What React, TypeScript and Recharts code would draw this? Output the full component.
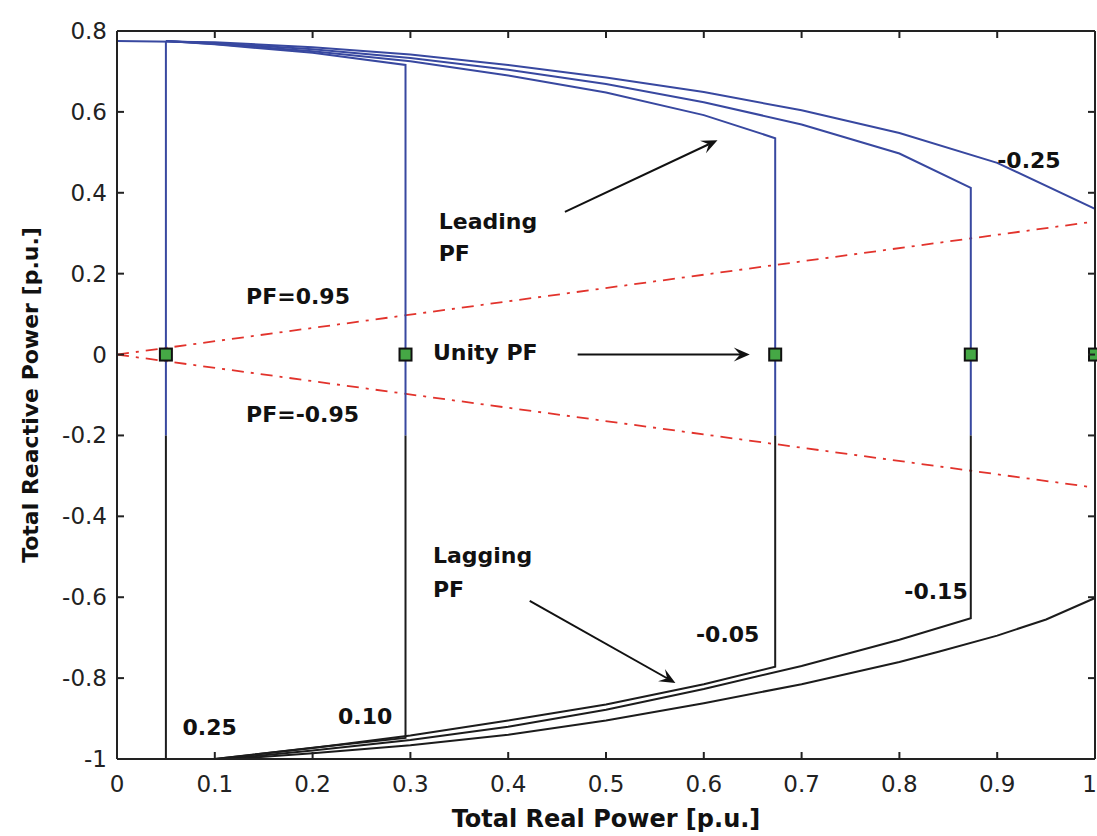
import React from 'react';
import { ComposedChart, Line, Scatter, XAxis, YAxis, ReferenceLine, ReferenceDot, Label } from 'recharts';

type P = { x: number; y: number };
const pts = (a: number[][]): P[] => a.map(([x, y]) => ({ x, y }));

// Tick values
const xTicks = [0, 0.1, 0.2, 0.3, 0.4, 0.5, 0.6, 0.7, 0.8, 0.9, 1];
const yTicks = [-1, -0.8, -0.6, -0.4, -0.2, 0, 0.2, 0.4, 0.6, 0.8];

// Leading PF (upper, blue) branches of each curve
const lead025 = pts([[0.05, 0.775], [0.05, -0.2]]);
const lead010 = pts([[0.05, 0.775], [0.1, 0.767], [0.2, 0.746], [0.295, 0.716], [0.295, -0.2]]);
const leadM005 = pts([[0.05, 0.775], [0.1, 0.768], [0.2, 0.75], [0.3, 0.725], [0.4, 0.69], [0.5, 0.648], [0.6, 0.592], [0.673, 0.535], [0.673, -0.2]]);
const leadM015 = pts([[0.05, 0.775], [0.1, 0.77], [0.2, 0.755], [0.3, 0.733], [0.4, 0.704], [0.5, 0.669], [0.6, 0.624], [0.7, 0.569], [0.8, 0.497], [0.873, 0.412], [0.873, -0.2]]);
const leadM025 = pts([[0, 0.775], [0.1, 0.772], [0.2, 0.76], [0.3, 0.742], [0.4, 0.716], [0.5, 0.685], [0.6, 0.649], [0.7, 0.604], [0.8, 0.548], [0.9, 0.474], [1.0, 0.36], [1.0, -0.2]]);

// Lagging PF (lower, black) branches of each curve
const lag025 = pts([[0.05, -0.2], [0.05, -1.0]]);
const lag010 = pts([[0.295, -0.2], [0.295, -0.948], [0.2, -0.972], [0.1, -1.0]]);
const lagM005 = pts([[0.673, -0.2], [0.673, -0.772], [0.6, -0.815], [0.5, -0.865], [0.4, -0.905], [0.3, -0.942], [0.2, -0.973], [0.1, -1.0]]);
const lagM015 = pts([[0.873, -0.2], [0.873, -0.652], [0.8, -0.705], [0.7, -0.77], [0.6, -0.827], [0.5, -0.878], [0.4, -0.92], [0.3, -0.953], [0.2, -0.979], [0.11, -1.0]]);
const lagM025 = pts([[1.0, -0.2], [1.0, -0.602], [0.95, -0.655], [0.9, -0.695], [0.84, -0.735], [0.8, -0.76], [0.7, -0.815], [0.6, -0.862], [0.5, -0.905], [0.4, -0.94], [0.3, -0.966], [0.2, -0.986], [0.12, -1.0]]);

// Power factor lines
const pfLead = pts([[0, 0], [1, 0.329]]);
const pfLag = pts([[0, 0], [1, -0.329]]);

// Unity PF points
const unity = pts([[0.05, 0], [0.295, 0], [0.673, 0], [0.873, 0], [1.0, 0]]);

// Annotations
const notes = [
  { x: 0.329, y: 0.328, text: 'Leading' },
  { x: 0.329, y: 0.249, text: 'PF' },
  { x: 0.132, y: 0.143, text: 'PF=0.95' },
  { x: 0.132, y: -0.147, text: 'PF=-0.95' },
  { x: 0.323, y: 0.004, text: 'Unity PF' },
  { x: 0.9, y: 0.479, text: '-0.25' },
  { x: 0.323, y: -0.498, text: 'Lagging' },
  { x: 0.323, y: -0.58, text: 'PF' },
  { x: 0.592, y: -0.691, text: '-0.05' },
  { x: 0.805, y: -0.585, text: '-0.15' },
  { x: 0.067, y: -0.923, text: '0.25' },
  { x: 0.226, y: -0.896, text: '0.10' },
];
const arrows = [
  { x1: 0.458, y1: 0.353, x2: 0.614, y2: 0.53 },
  { x1: 0.471, y1: 0.0, x2: 0.647, y2: 0.0 },
  { x1: 0.422, y1: -0.609, x2: 0.571, y2: -0.812 },
];

const BLUE = '#3848a0';
const BLACK = '#1c1c1c';
const RED = '#e2332c';
const AXIS = '#222';
const FONT = '"DejaVu Sans", sans-serif';

const fmt = (v: number) => String(v);

const BottomTick = (p: any) => {
  const last = p.payload.value === 1;
  return (
    <g>
      <line x1={p.x} y1={p.y} x2={p.x} y2={p.y - 7} stroke={AXIS} strokeWidth={2} />
      <text
        x={last ? p.x + 2 : p.x}
        y={p.y + 25}
        textAnchor={last ? 'end' : 'middle'}
        dominantBaseline="central"
        fontSize={23}
        fill={AXIS}
        fontFamily={FONT}
      >
        {fmt(p.payload.value)}
      </text>
    </g>
  );
};
const TopTick = (p: any) => <line x1={p.x} y1={p.y} x2={p.x} y2={p.y + 7} stroke={AXIS} strokeWidth={2} />;
const LeftTick = (p: any) => (
  <g>
    <line x1={p.x} y1={p.y} x2={p.x + 7} y2={p.y} stroke={AXIS} strokeWidth={2} />
    <text x={p.x - 10} y={p.y} textAnchor="end" dominantBaseline="central" fontSize={23} fill={AXIS} fontFamily={FONT}>
      {fmt(p.payload.value)}
    </text>
  </g>
);
const RightTick = (p: any) => <line x1={p.x} y1={p.y} x2={p.x - 7} y2={p.y} stroke={AXIS} strokeWidth={2} />;

const Square = (p: any) => (
  <rect x={p.cx - 6} y={p.cy - 6} width={12} height={12} fill="#45a845" stroke="#111" strokeWidth={2} />
);

const Arrow = (p: any) => {
  const { x1, y1, x2, y2 } = p;
  const ang = Math.atan2(y2 - y1, x2 - x1);
  const L = 16, W = 7;
  const bx = x2 - L * Math.cos(ang), by = y2 - L * Math.sin(ang);
  const ix = x2 - L * 0.6 * Math.cos(ang), iy = y2 - L * 0.6 * Math.sin(ang);
  const nx = -Math.sin(ang), ny = Math.cos(ang);
  return (
    <g>
      <line x1={x1} y1={y1} x2={ix} y2={iy} stroke="#111" strokeWidth={2} />
      <polygon
        points={`${x2},${y2} ${bx + nx * W},${by + ny * W} ${ix},${iy} ${bx - nx * W},${by - ny * W}`}
        fill="#111"
      />
    </g>
  );
};

const NoteText = (text: string) => (p: any) => (
  <text x={p.cx} y={p.cy} textAnchor="start" dominantBaseline="central" fontSize={22} fontWeight="bold" fill="#111" fontFamily={FONT}>
    {text}
  </text>
);

const lineProps = { type: 'linear' as const, dataKey: 'y', dot: false, activeDot: false, isAnimationActive: false, strokeWidth: 2 };

export default function App() {
  return (
    <div style={{ position: 'absolute', left: 0, top: 0, background: '#fff' }}>
      <ComposedChart width={1097} height={836} margin={{ top: 30, right: 1, bottom: 0, left: 0 }}>
        <XAxis
          xAxisId="b"
          type="number"
          dataKey="x"
          domain={[0, 1]}
          ticks={xTicks}
          interval={0}
          height={77}
          tickSize={0}
          tickMargin={0}
          tickLine={false}
          axisLine={{ stroke: AXIS, strokeWidth: 2 }}
          tick={<BottomTick />}
        >
          <Label
            content={(lp: any) => (
              <text
                x={lp.viewBox.x + lp.viewBox.width / 2}
                y={lp.viewBox.y + 60}
                textAnchor="middle"
                dominantBaseline="central"
                fontSize={24}
                fontWeight="bold"
                fill="#111"
                fontFamily={FONT}
              >
                Total Real Power [p.u.]
              </text>
            )}
          />
        </XAxis>
        <XAxis
          xAxisId="t"
          orientation="top"
          type="number"
          dataKey="x"
          domain={[0, 1]}
          ticks={xTicks}
          interval={0}
          height={1}
          tickSize={0}
          tickMargin={0}
          tickLine={false}
          axisLine={{ stroke: AXIS, strokeWidth: 2 }}
          tick={<TopTick />}
        />
        <YAxis
          yAxisId="l"
          type="number"
          dataKey="y"
          domain={[-1, 0.8]}
          ticks={yTicks}
          interval={0}
          width={117}
          tickSize={0}
          tickMargin={0}
          tickLine={false}
          axisLine={{ stroke: AXIS, strokeWidth: 2 }}
          tick={<LeftTick />}
        >
          <Label
            content={(lp: any) => {
              const cx = 30;
              const cy = lp.viewBox.y + lp.viewBox.height / 2;
              return (
                <text
                  x={cx}
                  y={cy}
                  transform={`rotate(-90 ${cx} ${cy})`}
                  textAnchor="middle"
                  dominantBaseline="central"
                  fontSize={22}
                  fontWeight="bold"
                  fill="#111"
                  fontFamily={FONT}
                >
                  Total Reactive Power [p.u.]
                </text>
              );
            }}
          />
        </YAxis>
        <YAxis
          yAxisId="r"
          orientation="right"
          type="number"
          dataKey="y"
          domain={[-1, 0.8]}
          ticks={yTicks}
          interval={0}
          width={1}
          tickSize={0}
          tickMargin={0}
          tickLine={false}
          axisLine={{ stroke: AXIS, strokeWidth: 2 }}
          tick={<RightTick />}
        />

        {/* invisible series binding the top and right frame axes */}
        <Line {...lineProps} xAxisId="t" yAxisId="r" data={pfLead} stroke="none" strokeWidth={0} />

        <Line {...lineProps} xAxisId="b" yAxisId="l" data={pfLead} stroke={RED} strokeWidth={1.8} strokeDasharray="12 7 3 7" />
        <Line {...lineProps} xAxisId="b" yAxisId="l" data={pfLag} stroke={RED} strokeWidth={1.8} strokeDasharray="12 7 3 7" />

        <Line {...lineProps} xAxisId="b" yAxisId="l" data={leadM025} stroke={BLUE} />
        <Line {...lineProps} xAxisId="b" yAxisId="l" data={leadM015} stroke={BLUE} />
        <Line {...lineProps} xAxisId="b" yAxisId="l" data={leadM005} stroke={BLUE} />
        <Line {...lineProps} xAxisId="b" yAxisId="l" data={lead010} stroke={BLUE} />
        <Line {...lineProps} xAxisId="b" yAxisId="l" data={lead025} stroke={BLUE} />

        <Line {...lineProps} xAxisId="b" yAxisId="l" data={lagM025} stroke={BLACK} />
        <Line {...lineProps} xAxisId="b" yAxisId="l" data={lagM015} stroke={BLACK} />
        <Line {...lineProps} xAxisId="b" yAxisId="l" data={lagM005} stroke={BLACK} />
        <Line {...lineProps} xAxisId="b" yAxisId="l" data={lag010} stroke={BLACK} />
        <Line {...lineProps} xAxisId="b" yAxisId="l" data={lag025} stroke={BLACK} />

        <Scatter xAxisId="b" yAxisId="l" data={unity} dataKey="y" shape={<Square />} isAnimationActive={false} />

        {arrows.map((a, i) => (
          <ReferenceLine
            key={'a' + i}
            xAxisId="b"
            yAxisId="l"
            segment={[{ x: a.x1, y: a.y1 }, { x: a.x2, y: a.y2 }]}
            ifOverflow="visible"
            shape={(p: any) => <Arrow {...p} />}
          />
        ))}
        {notes.map((n, i) => (
          <ReferenceDot
            key={'n' + i}
            xAxisId="b"
            yAxisId="l"
            x={n.x}
            y={n.y}
            r={0}
            ifOverflow="visible"
            shape={NoteText(n.text)}
          />
        ))}
      </ComposedChart>
    </div>
  );
}
